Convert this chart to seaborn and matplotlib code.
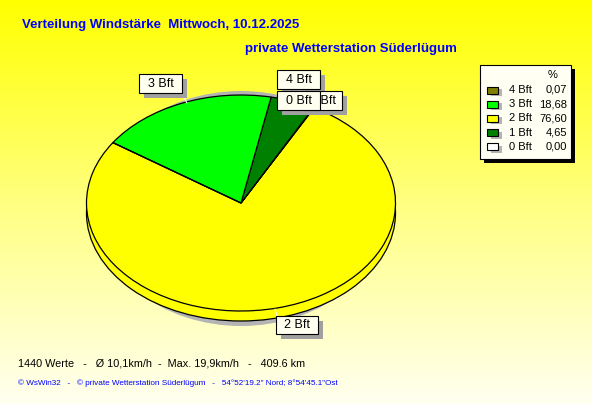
import numpy as np
import matplotlib
matplotlib.use("Agg")
import matplotlib.pyplot as plt
from matplotlib.patches import Rectangle, Ellipse
from matplotlib.colors import LinearSegmentedColormap
import seaborn as sns

sns.set_theme(style="white")
plt.rcParams['font.family'] = ['Liberation Sans', 'DejaVu Sans']

# data
categories = ["4 Bft", "3 Bft", "2 Bft", "1 Bft", "0 Bft"]
percent = [0.07, 18.68, 76.60, 4.65, 0.00]
slice_colors = ["#808000", "#00FF00", "#FFFF00", "#008000", "#FFFFFF"]
pie_order = [2, 0, 3, 1, 4]   # drawing order, counter-clockwise

title = "Verteilung Windstärke  Mittwoch, 10.12.2025"
subtitle = "private Wetterstation Süderlügum"
stats_line = "1440 Werte   -   Ø 10,1km/h  -  Max. 19,9km/h   -   409.6 km"
footer = "© WsWin32   -   © private Wetterstation Süderlügum   -   54°52'19.2\" Nord; 8°54'45.1\"Ost"

W, H = 592, 404
fig = plt.figure(figsize=(W / 100, H / 100), dpi=100)

# background gradient
bg = fig.add_axes([0, 0, 1, 1])
bg.set_axis_off()
grad = np.linspace(0, 1, 256).reshape(-1, 1)
cmap = LinearSegmentedColormap.from_list("bgy", ["#FFFF00", "#FFFF80", "#FFFFF0"])
bg.imshow(grad, aspect="auto", cmap=cmap, extent=[0, W, H, 0])
bg.set_xlim(0, W)
bg.set_ylim(H, 0)

# pie (ellipse box of the top face in pixels)
cx, cy, rx, ry, depth = 241, 203, 154.5, 108, 10
pax = fig.add_axes([(cx - rx) / W, 1 - (cy + ry) / H, 2 * rx / W, 2 * ry / H])
pax.set_axis_off()
d = depth / ry
pax.add_patch(Ellipse((0, -5.5 / ry), 2 * 146 / rx, 2 * 117.5 / ry, facecolor="#B4B4B4",
                      edgecolor="none", zorder=0.3, clip_on=False))
pax.add_patch(Ellipse((0, -d), 2, 2, facecolor="#FFFF00", edgecolor="black",
                      linewidth=0.9, zorder=0.6, clip_on=False))
vals = [percent[i] for i in pie_order]
cols = [slice_colors[i] for i in pie_order]
wedges, _ = pax.pie(vals, colors=cols, startangle=146, counterclock=True,
                    wedgeprops=dict(edgecolor="black", linewidth=0.9))
for w in wedges:
    w.set_clip_on(False)
pax.set_aspect("auto")
pax.set_xlim(-1, 1)
pax.set_ylim(-1, 1)

# overlay for text, labels and legend
ov = fig.add_axes([0, 0, 1, 1])
ov.set_axis_off()
ov.set_xlim(0, W)
ov.set_ylim(H, 0)
ov.patch.set_alpha(0)

ov.text(22, 25, title, color="#0000FF", fontsize=9.5, fontweight="bold", va="center")
ov.text(245, 49, subtitle, color="#0000FF", fontsize=9.5, fontweight="bold", va="center")
ov.text(18, 364, stats_line, color="black", fontsize=7.8, va="center")
ov.text(18, 383, footer, color="#0000FF", fontsize=5.9, va="center")

# slice labels (box x, y, w, h in pixels)
label_boxes = {
    "3 Bft": (139, 74, 43, 19),
    "4 Bft": (277, 70, 43, 19),
    "1 Bft": (304, 91, 38, 19),
    "0 Bft": (277, 91, 43, 19),
    "2 Bft": (276, 316, 42, 18),
}
label_order = ["3 Bft", "4 Bft", "1 Bft", "0 Bft", "2 Bft"]
ov.plot([183, 187], [96, 103], color="white", lw=0.8)
ov.plot([275, 277], [309, 316], color="white", lw=0.8)
for name in label_order:
    x, y, w, h = label_boxes[name]
    ov.add_patch(Rectangle((x + 5, y + 5), w, h, facecolor="#A0A0A0", edgecolor="none", zorder=4))
for i, name in enumerate(label_order):
    x, y, w, h = label_boxes[name]
    z = 5 + 2 * i
    ov.add_patch(Rectangle((x, y), w, h, facecolor="#FFFFF0", edgecolor="black",
                           linewidth=0.8, zorder=z))
    ov.text(x + w / 2, y + h / 2 + 0.5, name, ha="center", va="center", fontsize=9,
            color="black", zorder=z + 1)

# legend
lx, ly, lw_, lh = 480, 65, 91, 94
ov.add_patch(Rectangle((lx + 4, ly + 4), lw_, lh, facecolor="black", edgecolor="none"))
ov.add_patch(Rectangle((lx, ly), lw_, lh, facecolor="#FFFFF4", edgecolor="black", linewidth=0.8))
ov.text(553, 75, "%", ha="center", va="center", fontsize=8, color="black")
for k, (cat, val, col) in enumerate(zip(categories, percent, slice_colors)):
    yy = 90 + k * 14.2
    ov.add_patch(Rectangle((491, yy - 1), 11, 7, facecolor="#B4B4B4", edgecolor="none"))
    ov.add_patch(Rectangle((487, yy - 3.5), 11, 7, facecolor=col, edgecolor="black", linewidth=0.8))
    ov.text(509, yy, cat, ha="left", va="center", fontsize=8, color="black")
    ov.text(567, yy, f"{val:.2f}".replace(".", ","), ha="right", va="center",
            fontsize=8, color="black")

fig.savefig("out.png", dpi=100)
